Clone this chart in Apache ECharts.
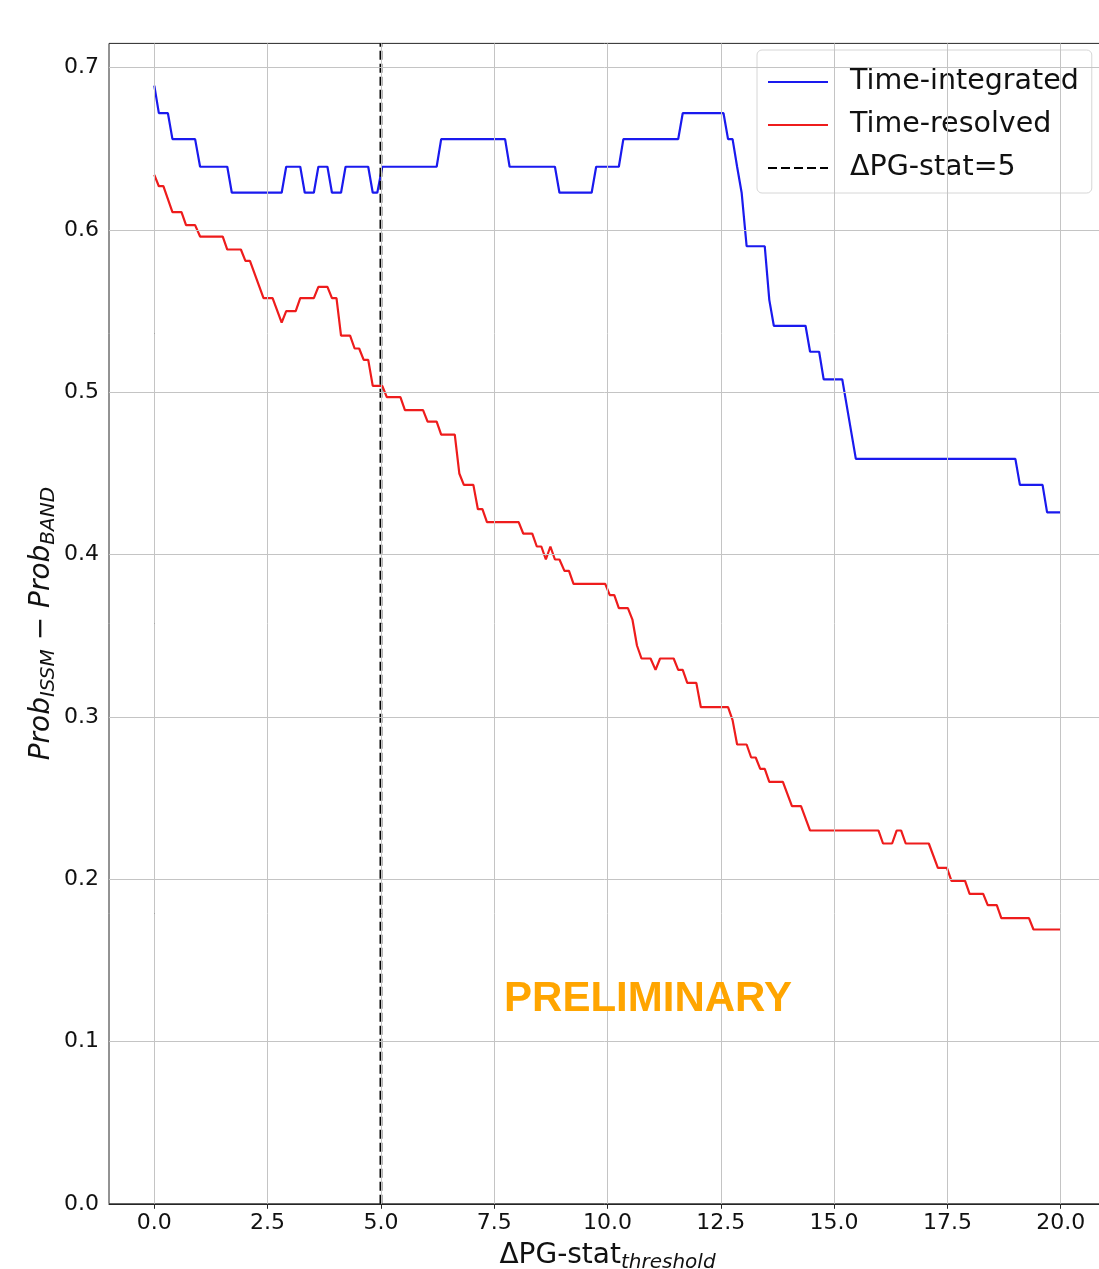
<!DOCTYPE html>
<html>
<head>
<meta charset="utf-8">
<script src="https://cdn.jsdelivr.net/npm/echarts@6/dist/echarts.min.js"></script>
<style>
html,body{margin:0;padding:0;background:#fff;}
#chart{width:1099px;height:1269px;}
</style>
</head>
<body>
<div id="chart"></div>
<script>
// ---- data ----
const xTickValues = [0, 2.5, 5, 7.5, 10, 12.5, 15, 17.5, 20];
const yTickValues = [0, 0.1, 0.2, 0.3, 0.4, 0.5, 0.6, 0.7];

const integratedX = [0, 0.10, 0.30, 0.40, 0.90, 1.01, 1.61, 1.71, 2.81, 2.91, 3.22, 3.32, 3.52, 3.62, 3.82, 3.92, 4.12, 4.22, 4.72, 4.82, 4.92, 5.03, 6.23, 6.33, 7.74, 7.84, 8.84, 8.94, 9.65, 9.75, 10.25, 10.35, 11.56, 11.66, 12.56, 12.66, 12.76, 12.86, 12.96, 13.07, 13.47, 13.57, 13.67, 14.37, 14.47, 14.67, 14.77, 15.18, 15.48, 19.00, 19.10, 19.60, 19.70, 20.00];
const integratedY = [0.689, 0.672, 0.672, 0.656, 0.656, 0.639, 0.639, 0.623, 0.623, 0.639, 0.639, 0.623, 0.623, 0.639, 0.639, 0.623, 0.623, 0.639, 0.639, 0.623, 0.623, 0.639, 0.639, 0.656, 0.656, 0.639, 0.639, 0.623, 0.623, 0.639, 0.639, 0.656, 0.656, 0.672, 0.672, 0.656, 0.656, 0.639, 0.623, 0.590, 0.590, 0.557, 0.541, 0.541, 0.525, 0.525, 0.508, 0.508, 0.459, 0.459, 0.443, 0.443, 0.426, 0.426];

const resolvedX = [0, 0.10, 0.20, 0.40, 0.60, 0.70, 0.90, 1.01, 1.51, 1.61, 1.91, 2.01, 2.11, 2.41, 2.61, 2.81, 2.91, 3.12, 3.22, 3.52, 3.62, 3.82, 3.92, 4.02, 4.12, 4.32, 4.42, 4.52, 4.62, 4.72, 4.82, 5.03, 5.13, 5.43, 5.53, 5.93, 6.03, 6.23, 6.33, 6.63, 6.73, 6.83, 7.04, 7.14, 7.24, 7.34, 8.04, 8.14, 8.34, 8.44, 8.54, 8.64, 8.74, 8.84, 8.94, 9.05, 9.15, 9.25, 9.95, 10.05, 10.15, 10.25, 10.45, 10.55, 10.65, 10.75, 10.95, 11.06, 11.16, 11.46, 11.56, 11.66, 11.76, 11.96, 12.06, 12.66, 12.76, 12.86, 13.07, 13.17, 13.27, 13.37, 13.47, 13.57, 13.87, 14.07, 14.27, 14.47, 15.98, 16.08, 16.28, 16.38, 16.48, 16.58, 17.09, 17.29, 17.49, 17.59, 17.89, 17.99, 18.29, 18.39, 18.59, 18.69, 19.30, 19.40, 20.00];
const resolvedY = [0.634, 0.627, 0.627, 0.611, 0.611, 0.603, 0.603, 0.596, 0.596, 0.588, 0.588, 0.581, 0.581, 0.558, 0.558, 0.543, 0.550, 0.550, 0.558, 0.558, 0.565, 0.565, 0.558, 0.558, 0.535, 0.535, 0.527, 0.527, 0.520, 0.520, 0.504, 0.504, 0.497, 0.497, 0.489, 0.489, 0.482, 0.482, 0.474, 0.474, 0.450, 0.443, 0.443, 0.428, 0.428, 0.420, 0.420, 0.413, 0.413, 0.405, 0.405, 0.397, 0.405, 0.397, 0.397, 0.390, 0.390, 0.382, 0.382, 0.375, 0.375, 0.367, 0.367, 0.360, 0.344, 0.336, 0.336, 0.329, 0.336, 0.336, 0.329, 0.329, 0.321, 0.321, 0.306, 0.306, 0.298, 0.283, 0.283, 0.275, 0.275, 0.268, 0.268, 0.260, 0.260, 0.245, 0.245, 0.230, 0.230, 0.222, 0.222, 0.230, 0.230, 0.222, 0.222, 0.207, 0.207, 0.199, 0.199, 0.191, 0.191, 0.184, 0.184, 0.176, 0.176, 0.169, 0.169];

const thresholdX = [5, 5];
const thresholdY = [0, 0.715];

const seriesNames = ['Time-integrated', 'Time-resolved', 'ΔPG-stat=5'];

function pairs(xs, ys) { return xs.map((x, i) => [x, ys[i]]); }

const FONT = '"DejaVu Sans", "Noto Sans", sans-serif';
const gridLine = { color: '#c4c4c4', width: 1, type: 'solid' };

const chart = echarts.init(document.getElementById('chart'), null, { renderer: 'canvas' });

chart.setOption({
  animation: false,
  backgroundColor: '#ffffff',
  grid: {
    left: 109, right: -7, top: 43.4, bottom: 65.2,
    containLabel: false, outerBoundsMode: 'none',
    show: true, borderColor: '#262626', borderWidth: 1, backgroundColor: 'transparent'
  },
  xAxis: {
    type: 'value', min: -1, max: 21,
    axisLine: { show: true, lineStyle: { color: '#262626', width: 1 } },
    axisTick: { show: true, customValues: xTickValues, length: 5, lineStyle: { color: '#262626' } },
    axisLabel: { customValues: xTickValues, fontSize: 22, fontFamily: FONT, color: '#111', margin: 8,
      formatter: v => v.toFixed(1) },
    splitLine: { show: false },
    name: '{a|ΔPG-stat}{b|threshold}',
    nameLocation: 'middle',
    nameGap: 29,
    nameTextStyle: {
      rich: {
        a: { fontSize: 28, fontFamily: FONT, color: '#111', lineHeight: 32 },
        b: { fontSize: 20, fontFamily: FONT, fontStyle: 'italic', color: '#111', lineHeight: 32, padding: [14, 0, 0, 0] }
      }
    }
  },
  yAxis: {
    type: 'value', min: 0, max: 0.715,
    axisLine: { show: true, lineStyle: { color: '#262626', width: 1 } },
    axisTick: { show: true, customValues: yTickValues, length: 5, lineStyle: { color: '#262626' } },
    axisLabel: { customValues: yTickValues, fontSize: 22, fontFamily: FONT, color: '#111', margin: 10,
      formatter: v => v.toFixed(1) },
    splitLine: { show: false },
    name: '{a|Prob}{b|ISSM}{a| − Prob}{b|BAND}',
    nameLocation: 'middle',
    nameRotate: 90,
    nameGap: 51,
    nameMoveOverlap: false,
    nameTextStyle: {
      rich: {
        a: { fontSize: 28, fontFamily: FONT, fontStyle: 'italic', color: '#111', lineHeight: 32 },
        b: { fontSize: 20, fontFamily: FONT, fontStyle: 'italic', color: '#111', lineHeight: 32, padding: [14, 0, 0, 0] }
      }
    }
  },
  legend: {
    data: seriesNames,
    orient: 'vertical',
    left: 757, top: 50,
    padding: [17, 13, 10, 10],
    itemWidth: 60, itemHeight: 14, itemGap: 13,
    itemStyle: { opacity: 0 },
    backgroundColor: 'rgba(255,255,255,0.85)',
    borderColor: '#d6d6d6', borderWidth: 1, borderRadius: 5,
    textStyle: { fontSize: 28.5, fontFamily: FONT, color: '#111', lineHeight: 30, padding: [0, 0, 0, 17] }
  },
  graphic: [{
    type: 'text', x: 648, y: 999, z: 10,
    style: { text: 'PRELIMINARY', fill: '#FFA500', font: 'bold 42px "Liberation Sans", Arial, sans-serif',
      align: 'center', verticalAlign: 'middle' }
  }],
  series: [
    {
      name: 'grid', type: 'line', data: [], z: 1, silent: true,
      markLine: {
        silent: true, symbol: 'none', label: { show: false }, animation: false,
        lineStyle: gridLine,
        data: xTickValues.map(v => ({ xAxis: v })).concat(yTickValues.slice(1).map(v => ({ yAxis: v })))
      }
    },
    {
      name: seriesNames[0], type: 'line', data: pairs(integratedX, integratedY), z: 3,
      symbol: 'none', lineStyle: { color: '#1a1aee', width: 2.2 }, itemStyle: { color: '#1a1aee' }
    },
    {
      name: seriesNames[1], type: 'line', data: pairs(resolvedX, resolvedY), z: 3,
      symbol: 'none', lineStyle: { color: '#ee1c1c', width: 2.2 }, itemStyle: { color: '#ee1c1c' }
    },
    {
      name: seriesNames[2], type: 'line', data: pairs(thresholdX, thresholdY), z: 4,
      symbol: 'none', lineStyle: { color: '#000', width: 2.8, type: [9, 4] }, itemStyle: { color: '#000' }
    }
  ]
});
</script>
</body>
</html>
